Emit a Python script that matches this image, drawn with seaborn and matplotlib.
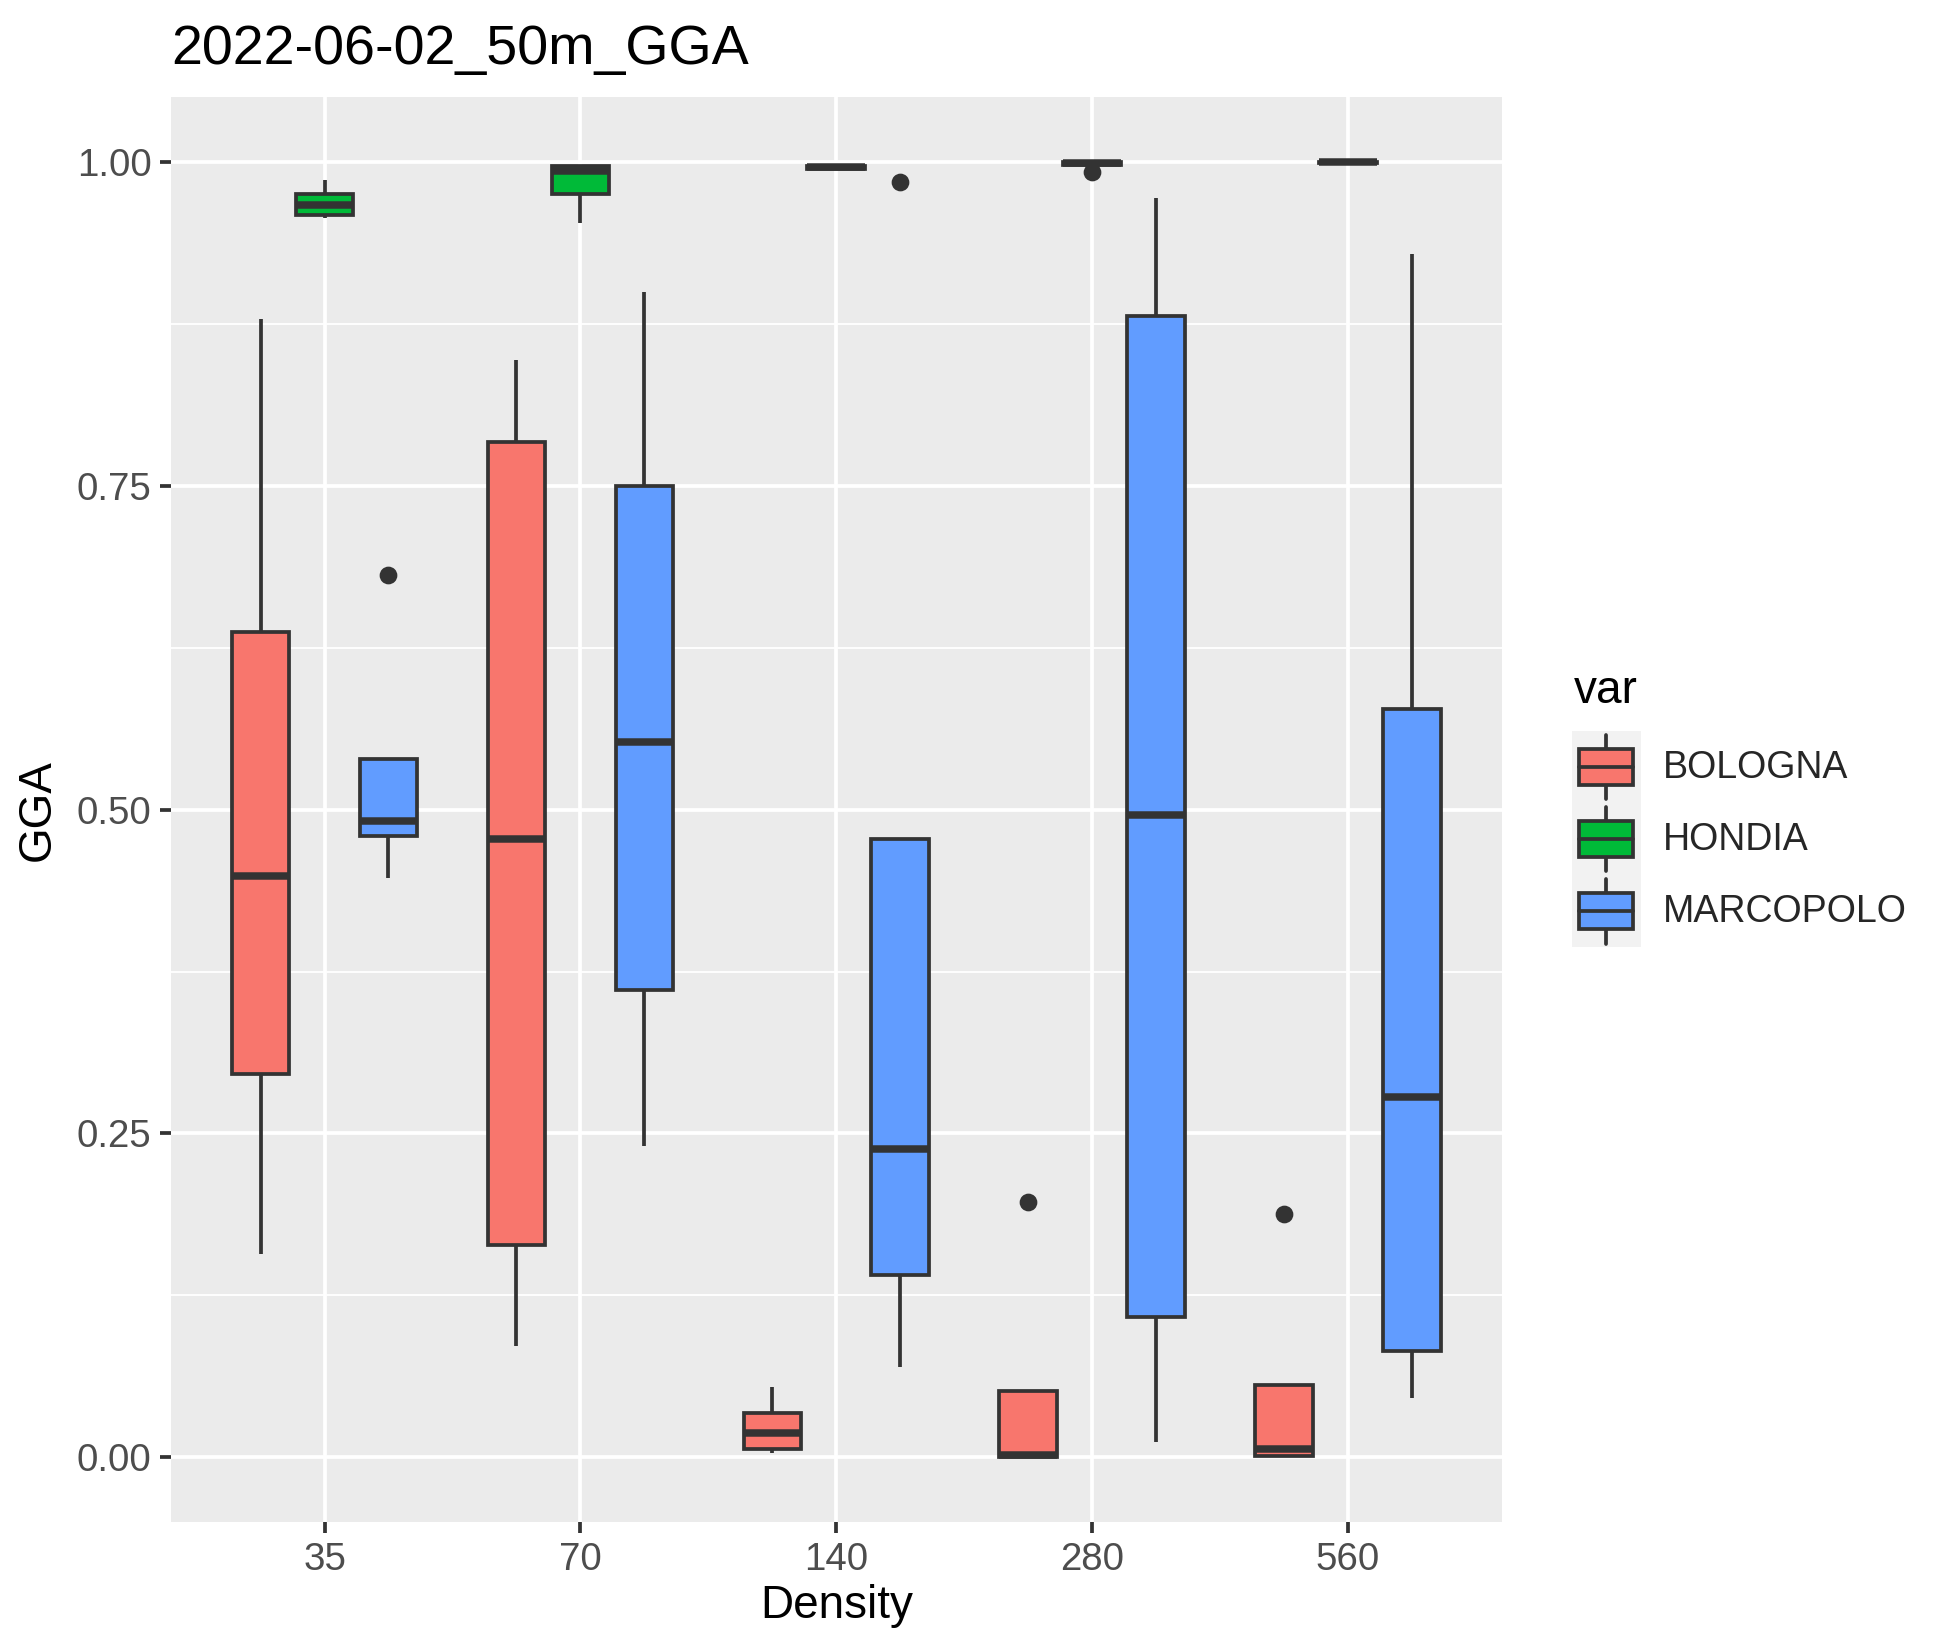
import numpy as np
import pandas as pd
import matplotlib
matplotlib.use("Agg")
import matplotlib.pyplot as plt
import matplotlib.patches as mpatches
import matplotlib.lines as mlines
from matplotlib.legend_handler import HandlerBase
from matplotlib.ticker import MultipleLocator, FormatStrFormatter
import seaborn as sns

DENSITIES = ["35", "70", "140", "280", "560"]
VARIETIES = ["BOLOGNA", "HONDIA", "MARCOPOLO"]
COLORS    = ["#F8766D", "#00BA38", "#619CFF"]

bologna = {
    "35":  [0.157, 0.296, 0.449, 0.637, 0.879],
    "70":  [0.086, 0.164, 0.477, 0.784, 0.847],
    "140": [0.003, 0.0066, 0.0185, 0.034, 0.054],
    "280": [0.000, 0.000, 0.002, 0.051, 0.197],
    "560": [0.000, 0.001, 0.006, 0.056, 0.188],
}
hondia = {
    "35":  [0.957, 0.959, 0.967, 0.975, 0.986],
    "70":  [0.953, 0.975, 0.993, 0.997, 0.997],
    "140": [0.994, 0.995, 0.996, 0.997, 0.998],
    "280": [0.992, 0.9975, 0.999, 1.000, 1.000],
    "560": [0.999, 0.9995, 1.000, 1.000, 1.000],
}
marcopolo = {
    "35":  [0.447, 0.480, 0.491, 0.539, 0.681],
    "70":  [0.240, 0.361, 0.552, 0.750, 0.900],
    "140": [0.070, 0.141, 0.238, 0.477, 0.985],
    "280": [0.0115, 0.108, 0.496, 0.881, 0.972],
    "560": [0.046, 0.082, 0.278, 0.578, 0.929],
}

rows = []
for var, d in zip(VARIETIES, [bologna, hondia, marcopolo]):
    for dens, vals in d.items():
        for v in vals:
            rows.append({"Density": dens, "GGA": v, "var": var})
df = pd.DataFrame(rows)

# ── style (ggplot2 grey look) ───────────────────────────────────────────────
sns.set_style("darkgrid", {"axes.facecolor": "#EBEBEB", "grid.color": "white"})
plt.rcParams["font.family"] = ["Liberation Sans", "DejaVu Sans"]

INK = "#333333"
LW  = 1.8

fig = plt.figure(figsize=(13, 11), dpi=150)
ax = fig.add_axes([0.0877, 0.0776, 0.770 - 0.0877, 0.941 - 0.0776])

sns.boxplot(data=df, x="Density", y="GGA", hue="var",
            order=DENSITIES, hue_order=VARIETIES, palette=COLORS,
            saturation=1, width=0.75, gap=0.1, linewidth=LW, linecolor=INK,
            showcaps=False, whis=1.5, fliersize=7.5,
            flierprops=dict(marker="o", markerfacecolor=INK, markeredgecolor=INK),
            medianprops=dict(linewidth=LW * 2, color=INK),
            legend=False, ax=ax, zorder=3)

ax.set_xlim(-0.6, 4.6)
ax.set_ylim(-0.05, 1.05)
ax.yaxis.set_major_locator(MultipleLocator(0.25))
ax.yaxis.set_minor_locator(MultipleLocator(0.125))
ax.yaxis.set_major_formatter(FormatStrFormatter("%.2f"))
ax.grid(which="major", color="white", lw=1.8)
ax.grid(which="minor", axis="y", color="white", lw=0.9)
ax.set_axisbelow(True)
for s in ax.spines.values():
    s.set_visible(False)
ax.tick_params(which="major", length=5.4, width=1.8, color=INK,
               labelsize=18.5, labelcolor="#4D4D4D", pad=4)
ax.tick_params(which="minor", left=False, bottom=False)
ax.tick_params(axis="x", bottom=True)
ax.tick_params(axis="y", left=True)

ax.set_xlabel("Density", fontsize=22, color="black", labelpad=3)
ax.set_ylabel("GGA", fontsize=22, color="black", labelpad=8)
ax.set_title("2022-06-02_50m_GGA", loc="left", fontsize=26.7, color="black", pad=16)


# ── legend with boxplot glyphs ──────────────────────────────────────────────
class BoxKey(HandlerBase):
    def create_artists(self, legend, orig_handle, xdescent, ydescent,
                       width, height, fontsize, trans):
        x0, y0 = -xdescent, -ydescent
        bg = mpatches.Rectangle((x0, y0), width, height, fc="#F2F2F2",
                                ec="none", transform=trans)
        bw, bh = width * 0.78, height * 0.5
        bx, by = x0 + (width - bw) / 2, y0 + (height - bh) / 2
        box = mpatches.Rectangle((bx, by), bw, bh,
                                 fc=orig_handle.get_facecolor(), ec=INK,
                                 lw=LW, transform=trans)
        xm = x0 + width / 2
        med = mlines.Line2D([bx, bx + bw], [y0 + height / 2] * 2,
                            color=INK, lw=LW, transform=trans)
        w_top = mlines.Line2D([xm, xm], [by + bh, y0 + height * 0.95],
                              color=INK, lw=LW, transform=trans)
        w_bot = mlines.Line2D([xm, xm], [y0 + height * 0.05, by],
                              color=INK, lw=LW, transform=trans)
        return [bg, w_top, w_bot, box, med]


handles = [mpatches.Patch(facecolor=c, label=v) for v, c in zip(VARIETIES, COLORS)]
leg = fig.legend(handles=handles, loc="upper left",
                 bbox_to_anchor=(0.806, 0.557), frameon=False,
                 handler_map={mpatches.Patch: BoxKey()},
                 fontsize=18, labelspacing=0,
                 handlelength=1.84, handleheight=2.58, handletextpad=0.6,
                 borderpad=0, borderaxespad=0)
fig.text(0.807, 0.574, "var", fontsize=22, color="black", ha="left", va="baseline")

fig.savefig("out.png", dpi=150)
